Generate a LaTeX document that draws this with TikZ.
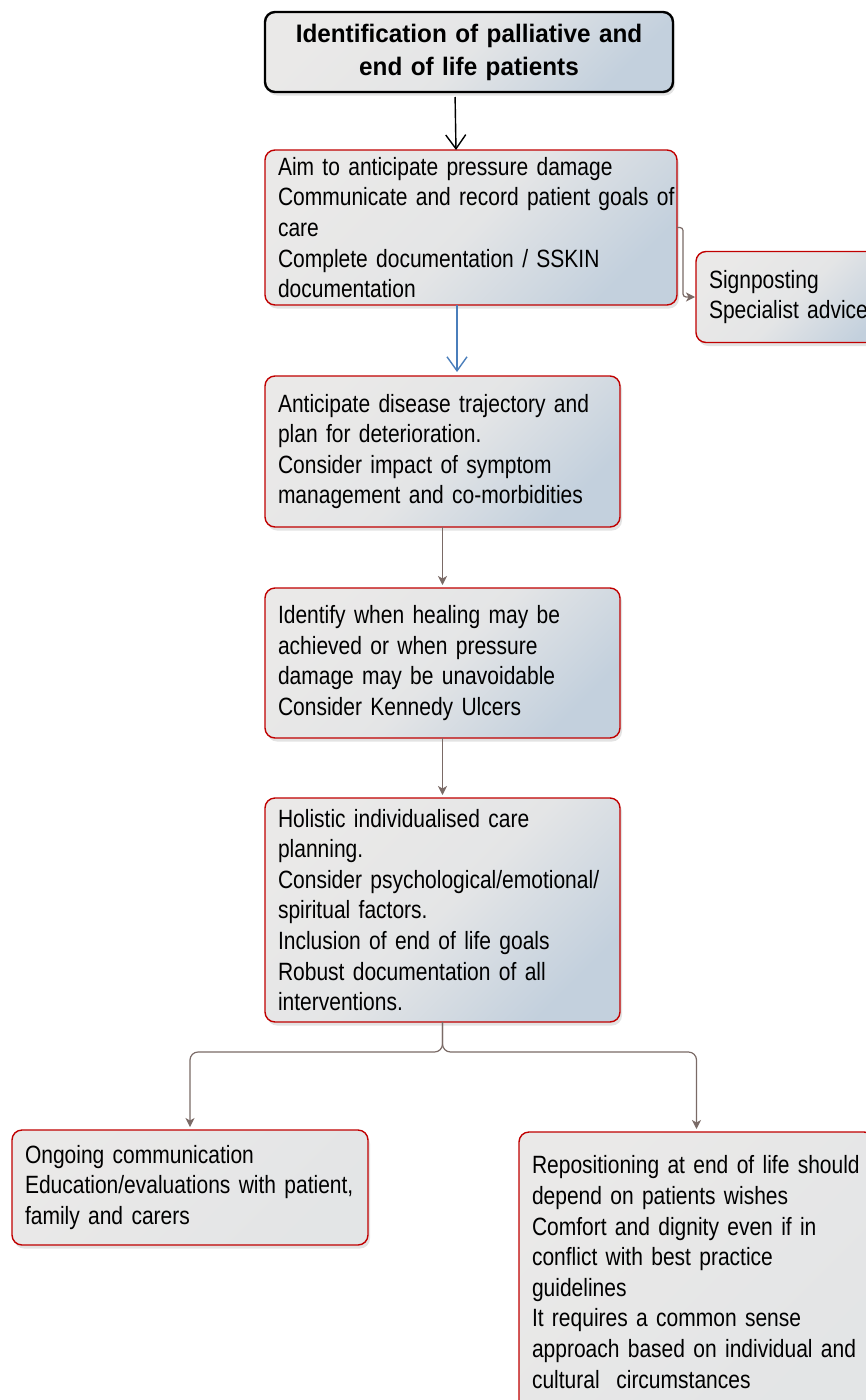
\documentclass[tikz,border=0pt]{standalone}
\usepackage{fontspec}
\setmainfont{Liberation Sans}[FakeStretch=0.84]
\newfontfamily\headfont{Liberation Sans}[FakeStretch=0.96]
\usetikzlibrary{arrows.meta, positioning, shadows}

\definecolor{boxred}{RGB}{192,0,0}
\definecolor{boxgrey}{RGB}{234,233,232}
\definecolor{boxblue}{RGB}{195,208,221}
\definecolor{connbrown}{RGB}{122,106,102}
\definecolor{arrowblue}{RGB}{74,126,187}

\begin{document}
\begin{tikzpicture}[
  x=1pt, y=1pt,
  font=\fontsize{25}{30.6}\selectfont,
  box/.style={draw=boxred, line width=1.4pt, outer sep=0pt, rounded corners=10pt, align=left, inner xsep=13pt, inner ysep=0pt, top color=boxgrey, bottom color=boxblue, middle color=boxgrey!85!boxblue, shading angle=45, drop shadow={shadow xshift=2pt, shadow yshift=-3.5pt, fill=black!22}},
  headbox/.style={box, draw=black, line width=2.4pt, align=center, font=\headfont\fontsize{25.3}{33}\selectfont\bfseries},
  lowbox/.style={box, top color=boxgrey, bottom color=boxgrey!82!boxblue, shading angle=45},
  tiparrow/.style={-{Straight Barb[length=14pt,width=20pt]}, line width=1.4pt},
  link/.style={-{Stealth[length=9pt,width=9pt,inset=2.5pt]}, connbrown, line width=1.2pt, shorten >=3pt}
]

\useasboundingbox (0,0) rectangle (866,-1400);
\clip (0,0) rectangle (866,-1400);

% Heading
\node[headbox, text width=382pt, minimum height=80pt, anchor=north west] (title) at (265,-12) {Identification of palliative and\\end of life patients};

% Main column
\node[box, text width=386pt, minimum height=155pt, below=58pt of title.south west, anchor=north west] (aim) {Aim to anticipate pressure damage\\\mbox{Communicate and record patient goals of}\\care\\Complete documentation / SSKIN\\documentation};
\node[box, text width=175pt, minimum height=91pt, below right=24pt and 19pt of aim.east] (sign) {Signposting\\Specialist advice};
\node[box, text width=329pt, minimum height=151pt, below=71pt of aim.south west, anchor=north west] (plan) {Anticipate disease trajectory and\\plan for deterioration.\\Consider impact of symptom\\management and co-morbidities};
\node[box, text width=329pt, minimum height=150pt, below=61pt of plan.south west, anchor=north west] (heal) {Identify when healing may be\\achieved or when pressure\\damage may be unavoidable\\Consider Kennedy Ulcers};
\node[box, text width=329pt, minimum height=224pt, below=60pt of heal.south west, anchor=north west] (care) {Holistic individualised care\\planning.\\\mbox{Consider psychological/emotional/}\\spiritual factors.\\Inclusion of end of life goals\\Robust documentation of all\\interventions.};

% Two branches
\node[lowbox, text width=330pt, minimum height=115pt, below=108pt of care.south west, anchor=north west, xshift=-253pt] (comm) {Ongoing communication\\\mbox{Education/evaluations with patient,}\\family and carers};
\node[lowbox, text width=329pt, minimum height=280pt, below=110pt of care.south west, anchor=north west, xshift=254pt] (rep) {\mbox{Repositioning at end of life should}\\depend on patients wishes\\Comfort and dignity even if in\\conflict with best practice\\guidelines\\It requires a common sense\\\mbox{approach based on individual and}\\cultural~ circumstances};

% Arrows
\draw[tiparrow, shorten <=5pt] ([xshift=-14pt]title.south) -- ([xshift=-15pt]aim.north);
\draw[tiparrow, arrowblue, shorten >=4pt] ([xshift=-14pt]aim.south) -- ([xshift=-14pt]aim.south |- plan.north);
\draw[link, rounded corners=3pt, shorten >=1pt] (aim.east) -- ++(6,0) |- (sign.west);
\draw[link] (plan) -- (heal);
\draw[link] (heal) -- (care);
\draw[link, rounded corners=8pt] (care.south) -- ++(0,-30) -| (comm.north);
\draw[link, rounded corners=8pt] (care.south) -- ++(0,-30) -| (rep.north);

\end{tikzpicture}
\end{document}
